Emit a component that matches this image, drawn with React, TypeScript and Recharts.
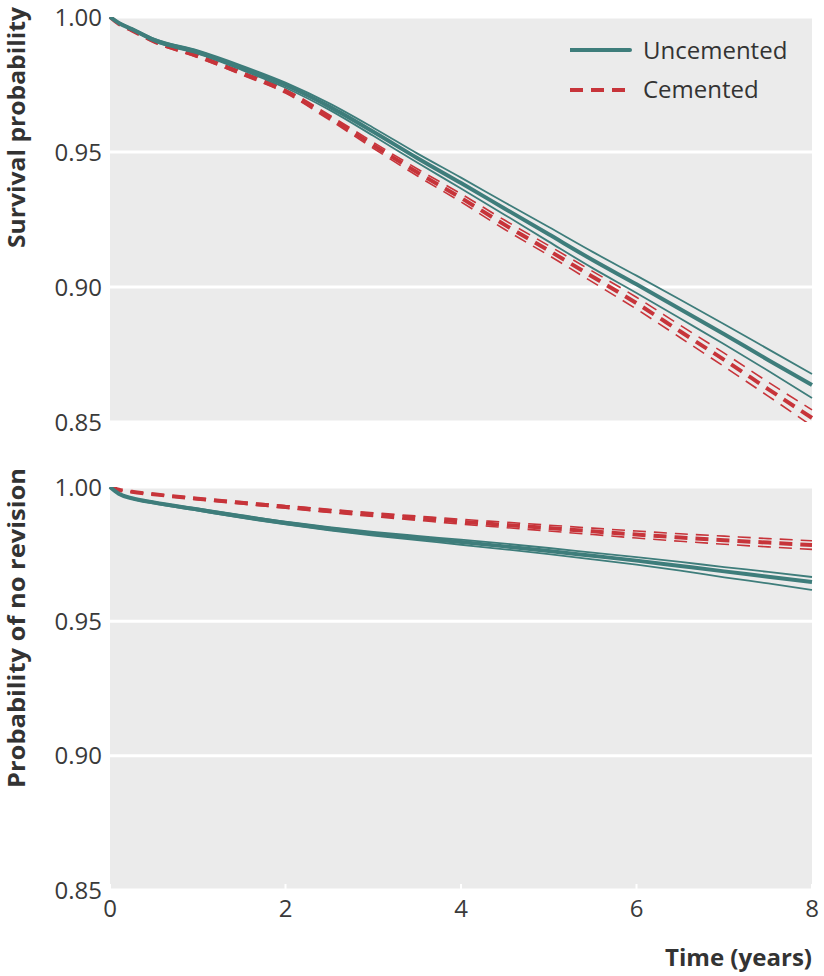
import { LineChart, Line, XAxis, YAxis, CartesianGrid } from "recharts";

const TEAL = "#3e7d7b";
const RED = "#c7343a";
const PANEL = "#ebebeb";
const INK = "#3a3a3a";

// time points (years)
const times = [0, 0.1, 0.25, 0.5, 1, 1.5, 2, 2.5, 3, 3.5, 4, 4.5, 5, 5.5, 6, 6.5, 7, 7.5, 8];

// survival, uncemented
const survUncEst = [1.0, 0.9978, 0.9955, 0.9915, 0.987, 0.9812, 0.9748, 0.9668, 0.9575, 0.9478, 0.9385, 0.929, 0.9195, 0.91, 0.901, 0.8918, 0.8825, 0.873, 0.8637];
const survUncHi = [1.0, 0.998, 0.9958, 0.992, 0.9876, 0.982, 0.9757, 0.968, 0.959, 0.9495, 0.9405, 0.9313, 0.9222, 0.913, 0.9042, 0.8953, 0.8862, 0.877, 0.8678];
const survUncLo = [1.0, 0.9976, 0.9952, 0.991, 0.9864, 0.9804, 0.9738, 0.9656, 0.956, 0.9461, 0.9365, 0.9267, 0.9168, 0.907, 0.8978, 0.8883, 0.8788, 0.869, 0.8589];

// survival, cemented
const survCemEst = [1.0, 0.9975, 0.995, 0.991, 0.9855, 0.9792, 0.9725, 0.9628, 0.9525, 0.9425, 0.933, 0.923, 0.9135, 0.9038, 0.894, 0.8835, 0.873, 0.8622, 0.8515];
const survCemHi = [1.0, 0.9976, 0.9952, 0.9914, 0.986, 0.9798, 0.9732, 0.9637, 0.9536, 0.9438, 0.9345, 0.9247, 0.9153, 0.9058, 0.8962, 0.8858, 0.8755, 0.8648, 0.8545];
const survCemLo = [1.0, 0.9974, 0.9948, 0.9906, 0.985, 0.9786, 0.9718, 0.9619, 0.9514, 0.9412, 0.9315, 0.9213, 0.9117, 0.9018, 0.8918, 0.8812, 0.8705, 0.8596, 0.8485];

// no revision, uncemented
const revUncEst = [1.0, 0.9975, 0.9958, 0.9942, 0.9916, 0.989, 0.9866, 0.9845, 0.9826, 0.981, 0.9795, 0.9779, 0.9762, 0.9744, 0.9726, 0.9706, 0.9686, 0.9666, 0.9646];
const revUncHi = [1.0, 0.9976, 0.996, 0.9945, 0.992, 0.9895, 0.9871, 0.9851, 0.9833, 0.9818, 0.9804, 0.9789, 0.9773, 0.9756, 0.9739, 0.9721, 0.9702, 0.9684, 0.9665];
const revUncLo = [1.0, 0.9974, 0.9956, 0.9939, 0.9912, 0.9885, 0.9861, 0.9839, 0.9819, 0.9802, 0.9785, 0.9768, 0.975, 0.9731, 0.9711, 0.9689, 0.9664, 0.9641, 0.9617];

// no revision, cemented
const revCemEst = [1.0, 0.999, 0.9982, 0.9973, 0.9956, 0.9941, 0.9926, 0.9911, 0.9897, 0.9884, 0.9871, 0.9859, 0.9847, 0.9835, 0.9823, 0.9812, 0.9802, 0.9793, 0.9784];
const revCemHi = [1.0, 0.9991, 0.9983, 0.9975, 0.9959, 0.9945, 0.9931, 0.9917, 0.9904, 0.9892, 0.988, 0.9869, 0.9858, 0.9847, 0.9836, 0.9826, 0.9817, 0.9808, 0.98];
const revCemLo = [1.0, 0.9989, 0.9981, 0.9971, 0.9953, 0.9937, 0.9921, 0.9905, 0.989, 0.9876, 0.9862, 0.9849, 0.9836, 0.9823, 0.981, 0.9798, 0.9787, 0.9777, 0.9768];

const xTicks = [0, 2, 4, 6, 8];
const yTicks = [0.85, 0.9, 0.95, 1.0];

const build = (ue: number[], uh: number[], ul: number[], ce: number[], ch: number[], cl: number[]) =>
  times.map((t, i) => ({ t, ue: ue[i], uh: uh[i], ul: ul[i], ce: ce[i], ch: ch[i], cl: cl[i] }));

const survRows = build(survUncEst, survUncHi, survUncLo, survCemEst, survCemHi, survCemLo);
const revRows = build(revUncEst, revUncHi, revUncLo, revCemEst, revCemHi, revCemLo);

const tickStyle = { fontSize: 24, fontFamily: "Open Sans, sans-serif", fill: INK };

const yLabel = (text: string, len: number, gap: number) => (props: any) => {
  const vb = props.viewBox;
  const x = 25;
  const y = vb.y - gap;
  return (
    <text
      x={x}
      y={y}
      transform={`rotate(-90, ${x}, ${y})`}
      textAnchor="end"
      fontSize={23}
      fontWeight={700}
      fontFamily="Open Sans, sans-serif"
      fill="#333"
      textLength={len}
      lengthAdjust="spacingAndGlyphs"
    >
      {text}
    </text>
  );
};

const lines = [
  <Line key="ch" dataKey="ch" type="monotone" stroke={RED} strokeWidth={1.6} strokeDasharray="13 8" dot={false} isAnimationActive={false} />,
  <Line key="cl" dataKey="cl" type="monotone" stroke={RED} strokeWidth={1.6} strokeDasharray="13 8" dot={false} isAnimationActive={false} />,
  <Line key="ce" dataKey="ce" type="monotone" stroke={RED} strokeWidth={4} strokeDasharray="13 8" dot={false} isAnimationActive={false} />,
  <Line key="uh" dataKey="uh" type="monotone" stroke={TEAL} strokeWidth={1.8} dot={false} isAnimationActive={false} />,
  <Line key="ul" dataKey="ul" type="monotone" stroke={TEAL} strokeWidth={1.8} dot={false} isAnimationActive={false} />,
  <Line key="ue" dataKey="ue" type="monotone" stroke={TEAL} strokeWidth={4} dot={false} isAnimationActive={false} />,
];

function LegendBox() {
  return (
    <svg width={240} height={80} style={{ position: "absolute", left: 570, top: 30 }}>
      <line x1={0} x2={60} y1={20} y2={20} stroke={TEAL} strokeWidth={4} strokeLinecap="round" />
      <text x={73} y={19} dominantBaseline="central" style={{ ...tickStyle, fill: "#333" }}>Uncemented</text>
      <line x1={0} x2={60} y1={60} y2={60} stroke={RED} strokeWidth={4} strokeDasharray="13 8" />
      <text x={73} y={58.5} dominantBaseline="central" style={{ ...tickStyle, fill: "#333" }}>Cemented</text>
    </svg>
  );
}

export default function App() {
  return (
    <div style={{ position: "absolute", left: 0, top: 0, width: 824, height: 976, background: "#fff" }}>
      <LineChart width={824} height={440} data={survRows} margin={{ top: 17, right: 12, bottom: 0, left: 0 }}>
        <CartesianGrid fill={PANEL} vertical={false} stroke="#fff" strokeWidth={3} />
        <XAxis
          type="number"
          dataKey="t"
          domain={[0, 8]}
          ticks={xTicks}
          height={18}
          tick={false}
          axisLine={false}
          tickLine={{ stroke: "#fff", strokeWidth: 2 }}
          tickSize={-6}
        />
        <YAxis
          domain={[0.85, 1]}
          ticks={yTicks}
          allowDataOverflow
          width={110}
          tickFormatter={(v: number) => v.toFixed(2)}
          tick={tickStyle}
          axisLine={false}
          tickLine={false}
          tickSize={0}
          tickMargin={8}
          label={{ content: yLabel("Survival probability", 241, 10) }}
        />
        {lines}
      </LineChart>
      <LineChart width={824} height={536} data={revRows} margin={{ top: 47, right: 12, bottom: 0, left: 0 }}>
        <CartesianGrid fill={PANEL} vertical={false} stroke="#fff" strokeWidth={3} />
        <XAxis
          type="number"
          dataKey="t"
          domain={[0, 8]}
          ticks={xTicks}
          height={86}
          tick={tickStyle}
          axisLine={false}
          tickLine={{ stroke: "#fff", strokeWidth: 2 }}
          tickSize={-6}
          tickMargin={16}
          label={{
            content: (props: any) => {
              const vb = props.viewBox;
              return (
                <text
                  x={vb.x + vb.width}
                  y={vb.y + 76}
                  textAnchor="end"
                  fontSize={24}
                  fontWeight={700}
                  fontFamily="Open Sans, sans-serif"
                  fill="#333"
                  textLength={147}
                  lengthAdjust="spacingAndGlyphs"
                >
                  Time (years)
                </text>
              );
            },
          }}
        />
        <YAxis
          domain={[0.85, 1]}
          ticks={yTicks}
          allowDataOverflow
          width={110}
          tickFormatter={(v: number) => v.toFixed(2)}
          tick={tickStyle}
          axisLine={false}
          tickLine={false}
          tickSize={0}
          tickMargin={8}
          label={{ content: yLabel("Probability of no revision", 320, 19) }}
        />
        {lines}
      </LineChart>
      <LegendBox />
    </div>
  );
}
